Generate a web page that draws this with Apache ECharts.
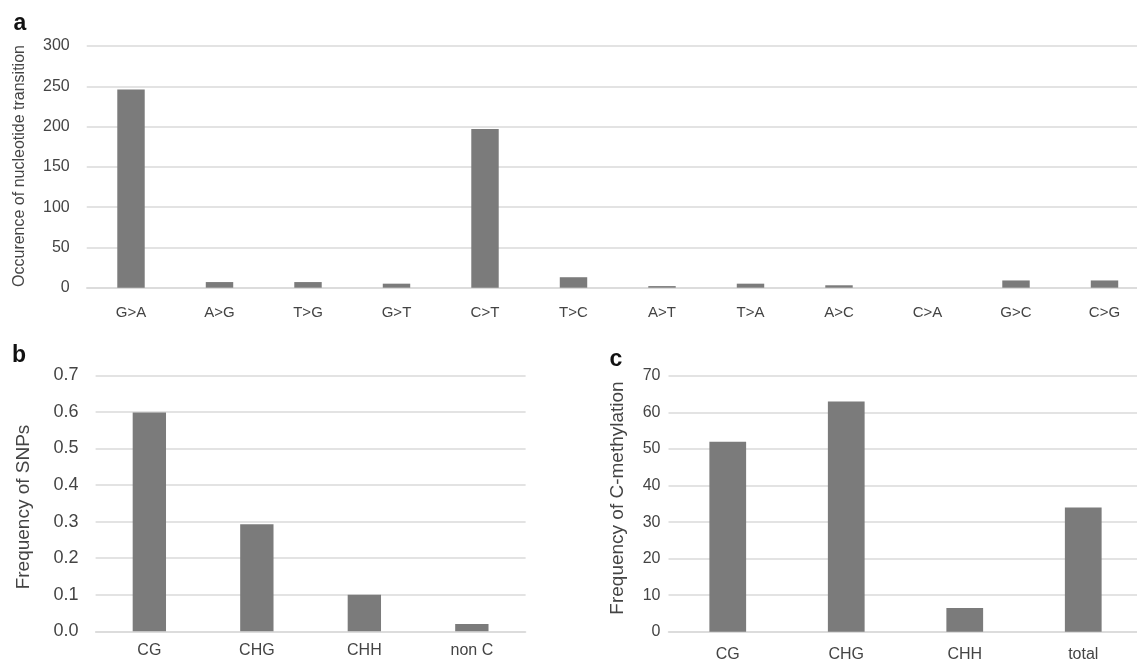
<!DOCTYPE html>
<html>
<head>
<meta charset="utf-8">
<script src="https://cdn.jsdelivr.net/npm/echarts@6/dist/echarts.min.js"></script>
<style>
html,body{margin:0;padding:0;background:#fff;}
#c{width:1137px;height:659px;}
</style>
</head>
<body>
<div id="c"></div>
<script>
// ---- data ----
var catsA = ['G>A','A>G','T>G','G>T','C>T','T>C','A>T','T>A','A>C','C>A','G>C','C>G'];
var valsA = [246, 7, 7, 5, 197, 13, 2, 5, 3, 0, 9, 9];
var catsB = ['CG','CHG','CHH','non C'];
var valsB = [0.598, 0.293, 0.1, 0.02];
var catsC = ['CG','CHG','CHH','total'];
var valsC = [52, 63, 6.5, 34];
var ticksA = [0, 50, 100, 150, 200, 250, 300];
var ticksB = [0.0, 0.1, 0.2, 0.3, 0.4, 0.5, 0.6, 0.7];
var ticksC = [0, 10, 20, 30, 40, 50, 60, 70];

var FONT = 'Liberation Sans, Arial, sans-serif';
var BAR = '#7b7b7b';
var GRIDC = '#dadada';
var TXT = '#444444';

function xAx(idx, cats, fs, margin) {
  return {
    type: 'category', gridIndex: idx, data: cats,
    axisLine: {show: true, lineStyle: {color: GRIDC, width: 1.5}},
    axisTick: {show: false},
    axisLabel: {color: TXT, fontSize: fs, fontFamily: FONT, margin: margin, interval: 0}
  };
}
function yAx(idx, ticks, fs, margin, fmt) {
  return {
    type: 'value', gridIndex: idx,
    min: ticks[0], max: ticks[ticks.length - 1], interval: ticks[1] - ticks[0],
    axisLine: {show: false}, axisTick: {show: false},
    splitLine: {show: true, lineStyle: {color: GRIDC, width: 1.5}},
    axisLabel: {color: TXT, fontSize: fs, fontFamily: FONT, margin: margin, formatter: fmt}
  };
}

var chart = echarts.init(document.getElementById('c'), null, {renderer: 'canvas'});
chart.setOption({
  backgroundColor: '#ffffff',
  animation: false,
  grid: [
    {left: 86.75, right: -11.75, top: 46, height: 241.7, outerBoundsMode: 'none', containLabel: false},
    {left: 95.6, width: 430, top: 375.3, height: 256, outerBoundsMode: 'none', containLabel: false},
    {left: 668.5, right: -5.5, top: 376, height: 255.7, outerBoundsMode: 'none', containLabel: false}
  ],
  xAxis: [
    xAx(0, catsA, 15, 18),
    xAx(1, catsB, 16, 11),
    xAx(2, catsC, 16, 15)
  ],
  yAxis: [
    yAx(0, ticksA, 16, 17, function (v) { return String(v); }),
    yAx(1, ticksB, 18, 17, function (v) { return v.toFixed(1); }),
    yAx(2, ticksC, 16, 8, function (v) { return String(v); })
  ],
  series: [
    {type: 'bar', xAxisIndex: 0, yAxisIndex: 0, data: valsA, barCategoryGap: '69%', itemStyle: {color: BAR}},
    {type: 'bar', xAxisIndex: 1, yAxisIndex: 1, data: valsB, barCategoryGap: '69%', itemStyle: {color: BAR}},
    {type: 'bar', xAxisIndex: 2, yAxisIndex: 2, data: valsC, barCategoryGap: '69%', itemStyle: {color: BAR}}
  ],
  graphic: [
    {type: 'text', x: 20, y: 24, style: {text: 'a', font: 'bold 23px ' + FONT, fill: '#111', align: 'center', verticalAlign: 'middle'}},
    {type: 'text', x: 19, y: 356, style: {text: 'b', font: 'bold 23px ' + FONT, fill: '#111', align: 'center', verticalAlign: 'middle'}},
    {type: 'text', x: 616, y: 360, style: {text: 'c', font: 'bold 23px ' + FONT, fill: '#111', align: 'center', verticalAlign: 'middle'}},
    {type: 'text', x: 20, y: 166, rotation: Math.PI / 2, style: {text: 'Occurence of nucleotide transition', font: '16px ' + FONT, fill: TXT, align: 'center', verticalAlign: 'middle'}},
    {type: 'text', x: 24, y: 507, rotation: Math.PI / 2, style: {text: 'Frequency of SNPs', font: '19px ' + FONT, fill: TXT, align: 'center', verticalAlign: 'middle'}},
    {type: 'text', x: 618, y: 498, rotation: Math.PI / 2, style: {text: 'Frequency of C-methylation', font: '19px ' + FONT, fill: TXT, align: 'center', verticalAlign: 'middle'}}
  ]
});
</script>
</body>
</html>
